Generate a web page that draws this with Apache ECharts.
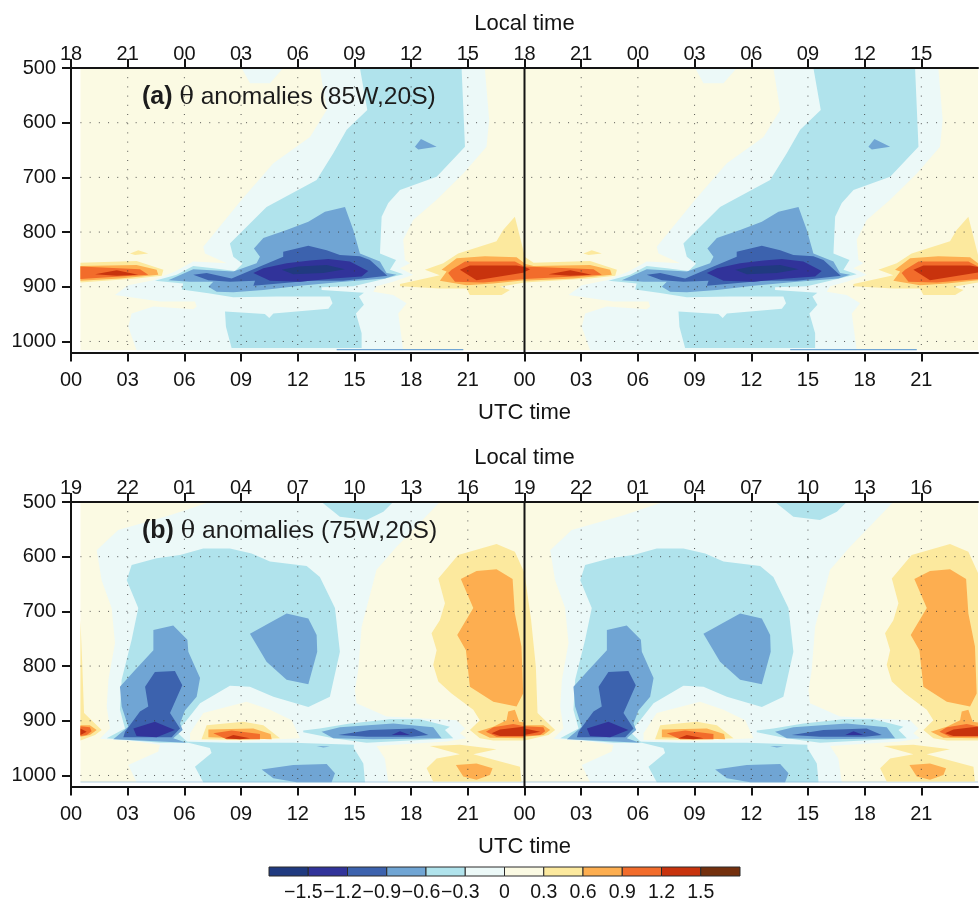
<!DOCTYPE html>
<html>
<head>
<meta charset="utf-8">
<style>html,body{margin:0;padding:0;background:#fff}#c{width:979px;height:902px}</style>
<script src="https://cdn.jsdelivr.net/npm/echarts@6/dist/echarts.min.js"></script>
</head>
<body>
<div id="c"></div>
<script>
// Axis content
const pressureTicks = [500,600,700,800,900,1000];
const utcTicks = [0,3,6,9,12,15,18,21,24,27,30,33,36,39,42,45];
const utcLabels = ['00','03','06','09','12','15','18','21','00','03','06','09','12','15','18','21'];
const localLabelsA = ['18','21','00','03','06','09','12','15','18','21','00','03','06','09','12','15'];
const localLabelsB = ['19','22','01','04','07','10','13','16','19','22','01','04','07','10','13','16'];
const gridHours = [3,6,9,12,15,18,21,27,30,33,36,39,42,45];
const gridPressures = [600,700,800,900,1000];
const cbEdges = [-1.8,-1.5,-1.2,-0.9,-0.6,-0.3,0,0.3,0.6,0.9,1.2,1.5,1.8];
const cbTicks = [-1.5,-1.2,-0.9,-0.6,-0.3,0,0.3,0.6,0.9,1.2,1.5];

// Contour regions of panel (a): [UTC hour, hPa] vertices, one 24 h cycle
const a_base = [[0,500],[24,500],[24,1016],[0,1016]];
const a_n0_main = [[13.17,500],[13.53,577],[12.65,626],[10.71,674],[9.03,741],[7,827],[7.09,839],[8.24,857],[6.47,854],[5.5,872],[4.36,888],[3.03,897],[2.33,915],[4.71,927],[6.56,927],[6.65,936],[6.47,941],[4.36,936],[3.21,949],[3.03,973],[3.47,1016],[17.58,1016],[17.32,949],[17.76,930],[17.05,915],[16,909],[16.17,899],[17.05,891],[18.11,878],[17.41,866],[17.94,857],[17.67,851],[17.58,814],[18.11,778],[19.35,741],[20.76,693],[21.99,644],[22.13,595],[21.9,500]];
const a_n0_top = [[9.03,500],[9.47,528],[10.53,528],[11.23,500]];
const a_n3_main = [[15.29,500],[15.68,577],[14.59,613],[13.88,656],[13,705],[10.35,754],[8.41,821],[8.59,845],[9.08,858],[8.68,871],[7.53,866],[6.47,862],[5.59,878],[4.44,889],[5.94,894],[5.86,905],[7.27,912],[8.59,919],[10.88,918],[13.7,918],[13.84,930],[13.62,940],[10.71,949],[10.49,957],[10.26,950],[8.15,945],[8.2,973],[8.5,1012],[15.38,1012],[15.38,985],[15.08,949],[15.5,933],[15.24,918],[15.5,911],[13.26,906],[13.26,901],[14.94,899],[16.17,889],[17.58,877],[16.88,869],[17.2,851],[16.35,839],[16.44,772],[16.79,747],[17.41,723],[19.35,699],[20.85,644],[20.67,500]];
const a_n3_edge = [[14.06,1014],[20.76,1014],[20.76,1016],[14.06,1016]];
const a_n6_main = [[5.15,888],[6.47,868],[8.59,872],[9.82,857],[10,845],[9.68,830],[10.18,811],[11.41,796],[12.56,781],[13.44,763],[14.5,754],[14.94,796],[15.29,839],[16.35,854],[16.7,875],[17.23,878],[16.61,885],[14.41,891],[12.12,898],[10.18,906],[8.59,910],[7.71,909],[7.27,900],[7.53,891],[6.3,891]];
const a_n6_dot = [[18.2,644],[18.52,630],[19.35,644],[18.38,649]];
const a_n9_main = [[6.47,878],[7.18,875],[8.5,885],[10,863],[11.23,845],[11.23,836],[12.56,825],[13.53,833],[14.23,842],[15.29,844],[15.82,851],[16.74,880],[14.41,889],[12.65,889],[9.65,898],[9.74,889],[8.41,891],[7.27,888]];
const a_n12_main = [[9.65,875],[10.18,866],[11.41,857],[12.65,852],[13.62,849],[14.76,854],[15.73,871],[15.38,881],[13.88,885],[12.12,891],[10.53,889]];
const a_n15_main = [[11.15,869],[12.03,863],[13.53,860],[14.5,868],[13.35,875],[11.76,877]];
const a_p3_right = [[17.41,895],[19.52,879],[18.73,869],[19.7,857],[20.49,839],[22.52,817],[22.87,796],[23.49,772],[24,842],[24,892],[22.7,900],[23.23,906],[22.79,915],[21.11,915],[20.93,903],[19.52,903],[17.41,899]];
const a_p3_left = [[0,845],[0.48,856],[3.47,853],[4.89,869],[4.8,880],[3.47,885],[0,892]];
const a_p3_spot = [[3.12,839],[3.56,833],[4.09,839],[3.39,842]];
const a_p6_right = [[19.61,869],[20.41,848],[21.9,844],[23.58,846],[24,857],[24,888],[22.35,894],[20.93,897],[19.52,889],[19.88,872]];
const a_p6_left = [[0,858],[0.48,862],[3.47,860],[4.53,869],[4.62,878],[2.59,885],[0,889]];
const a_p9_right = [[20.14,869],[20.85,854],[23.49,854],[24,863],[24,886],[21.82,892],[20.32,891],[19.96,875]];
const a_p9_left = [[0,863],[3.65,868],[4.09,878],[2.59,881],[0,886]];
const a_p12_right = [[20.58,869],[21.11,861],[23.58,861],[24,864],[24,874],[21.46,888]];
const a_p12_left = [[0,864],[0.3,868],[0,873]];
const a_p12_tongue = [[1.27,877],[2.42,870],[3.56,878],[2.42,880]];

// Contour regions of panel (b)
const b_base = [[0,500],[24,500],[24,1012.5],[0,1012.5]];
const b_n0_main = [[7.35,500],[5.24,524],[2.5,551],[1.36,588],[1.62,643],[2.15,694],[2.33,758],[1.98,825],[1.89,874],[2.06,914],[1.53,933],[3.47,938],[4.71,944],[4.62,956],[3.03,981],[3.47,1012.5],[16.79,1012.5],[16.61,969],[16.17,946],[19.88,938],[20.93,932],[20.58,923],[20.85,914],[20.41,899],[16.7,892],[15.11,868],[15.03,844],[15.2,807],[15.38,728],[16.17,624],[17.23,582],[19.52,500]];
const b_p0_island = [[6.3,923],[7,886],[9.29,865],[10.53,880],[11.68,899],[12.12,932],[9.12,937],[6.3,935]];
const b_n3_main = [[7,585],[5.77,597],[4.53,603],[3.21,615],[2.95,643],[3.56,694],[3.21,752],[2.68,825],[2.59,880],[2.86,914],[1.89,932],[4.71,940],[6.21,940],[5.86,929],[5.59,920],[6.12,899],[6.83,868],[8.41,836],[9.47,838],[10.71,856],[12.56,875],[13.7,856],[14.23,774],[13.97,694],[13.17,637],[12.47,617],[10.53,609],[9.56,594],[8.41,585]];
const b_n3_top = [[13.26,500],[14.23,527],[15.64,533],[16.53,518],[17.05,500]];
const b_n3_low = [[5.94,938],[7.35,950],[7.44,959],[6.56,984],[7,1012.5],[15.56,1012.5],[15.47,978],[14.97,950],[14.97,944],[11.76,940],[8.24,940]];
const b_n3_band = [[12.29,918],[13.17,914],[14.76,905],[16.88,897],[18.47,897],[20.05,911],[19.79,917],[20.23,932],[15.64,940],[13.88,932],[12.29,921]];
const b_n6_tower = [[4.36,734],[5.41,726],[6.16,752],[6.21,774],[6.83,822],[6.65,856],[6.03,881],[5.77,905],[5.91,917],[5.41,932],[6.12,940],[2.24,934],[3.03,911],[2.68,874],[2.59,838],[3.39,807],[4.36,771]];
const b_n6_mid = [[9.47,741],[11.41,704],[12.56,713],[13,743],[13.03,774],[12.56,833],[11.41,825],[10.35,792]];
const b_n6_band = [[13.26,920],[14.23,912],[17.05,905],[19.17,912],[19.61,932],[16,934],[13.88,932]];
const b_n6_low = [[10.09,989],[11.76,981],[13.53,979],[13.97,996],[13.79,1012.5],[11.94,1012.5],[10.71,1005]];
const b_n6_spot = [[13,946],[13.7,947],[13.35,949]];
const b_n6_edge = [[0,1011.5],[24,1011.5],[24,1012.5],[0,1012.5]];
const b_n9_tower = [[4.44,811],[5.5,809],[5.89,835],[5.24,886],[5.77,914],[5.33,930],[2.77,930],[2.86,920],[3.65,883],[4.09,874],[3.92,838]];
const b_n9_band = [[14.14,926],[15.82,917],[18.11,914],[18.91,926],[18.02,929],[15.64,929]];
const b_n12_tower = [[3.3,914],[4.44,902],[5.5,917],[4.53,930],[3.47,928]];
const b_n12_band = [[16.97,926],[17.41,919],[17.94,926]];
const b_p3_right = [[19.44,640],[20.49,597],[22.52,577],[23.49,591],[24,630],[24,936],[22.35,936],[21.64,932],[21.11,917],[21.64,899],[21.29,880],[20.14,850],[19.44,828],[19.17,798],[19.35,771],[19.08,740],[19.52,716],[19.79,685]];
const b_p3_left = [[0,630],[0.35,716],[0.6,801],[0.69,886],[1.62,917],[1.27,926],[0,936]];
const b_p3_island = [[6.91,934],[7.18,908],[9.12,902],[10.18,908],[11.06,932],[9.12,935]];
const b_p3_low = [[18.99,946],[20.58,944],[22.52,952],[21.29,961],[23.76,984],[23.84,1011],[19.17,1011],[18.82,987],[19.35,969],[20.58,961]];
const b_p6_big = [[20.63,641],[21.46,626],[22.52,623],[23.37,641],[23.49,704],[23.84,764],[23.93,850],[23.58,874],[22.35,865],[21.11,838],[20.9,771],[20.44,743],[21.29,694]];
const b_p6_band = [[21.5,920],[22.35,911],[23.05,899],[23.14,883],[23.49,880],[23.72,902],[24,903],[24,932],[22.17,931]];
const b_p6_left = [[0,908],[1,908],[1.36,917],[1,926],[0,929]];
const b_p6_island = [[7.27,916],[9.65,914],[10.56,924],[10.62,934],[7.27,930]];
const b_p6_low = [[20.37,981],[21.46,978],[22.31,987],[22.17,999],[21.46,1008],[20.76,1002]];
const b_p9_band = [[21.96,920],[22.35,912],[23.4,906],[24,910],[24,929],[22.52,929]];
const b_p9_left = [[0,910],[1,912],[1.09,919],[0.83,926],[0,928]];
const b_p9_island = [[7.53,923],[8.5,918],[10,924],[10,934],[8.24,934]];
const b_p12_band = [[22.26,923],[22.7,916],[23.93,911],[24,911],[24,928],[22.7,928]];
const b_p12_left = [[0,914],[0.83,920],[0,926]];
const b_p12_island = [[8.15,932],[8.59,926],[9.47,932],[8.94,934]];

// Colours of the twelve contour classes, coolest to warmest
const levelColors = ['#203a80','#31339a','#3c62ae','#70a5d4','#b0e3ec','#ecf9f8','#fbfae3','#fce99e','#fdae50','#f26c2b','#c8330d','#74300e'];
const N15=0,N12=1,N9=2,N6=3,N3=4,N0=5,P0=6,P3=7,P6=8,P9=9,P12=10;

const bandsA = [
 [P0,a_base],[N0,a_n0_main],[N0,a_n0_top],
 [P3,a_p3_right],[P3,a_p3_left],[P3,a_p3_spot],
 [P6,a_p6_right],[P6,a_p6_left],
 [P9,a_p9_right],[P9,a_p9_left],
 [P12,a_p12_right],[P12,a_p12_left],[P12,a_p12_tongue],
 [N3,a_n3_main],[N6,a_n3_edge],[N6,a_n6_main],[N6,a_n6_dot],
 [N9,a_n9_main],[N12,a_n12_main],[N15,a_n15_main]
];
const bandsB = [
 [P0,b_base],[N0,b_n0_main],[P0,b_p0_island],
 [N3,b_n3_main],[N3,b_n3_top],[N3,b_n3_low],[N3,b_n3_band],
 [N6,b_n6_tower],[N6,b_n6_mid],[N6,b_n6_band],[N6,b_n6_low],[N6,b_n6_spot],[N6,b_n6_edge],
 [N9,b_n9_tower],[N9,b_n9_band],[N12,b_n12_tower],[N12,b_n12_band],
 [P3,b_p3_right],[P3,b_p3_left],[P3,b_p3_island],[P3,b_p3_low],
 [P6,b_p6_big],[P6,b_p6_band],[P6,b_p6_left],[P6,b_p6_island],[P6,b_p6_low],
 [P9,b_p9_band],[P9,b_p9_left],[P9,b_p9_island],
 [P12,b_p12_band],[P12,b_p12_left],[P12,b_p12_island]
];

const ink = '#141414';
const fontFamily = '"Liberation Sans", Arial, sans-serif';
const TICK = 20, NAME = 22;

function bandSeries(bands, axisIdx, offset){
  const minHour = offset === 0 ? 0.5 : offset;
  return {
    type:'custom', xAxisIndex:axisIdx.x, yAxisIndex:axisIdx.y, silent:true, animation:false, clip:false, z:2,
    data:bands.map((b,i)=>[i]),
    renderItem(params, api){
      const b = bands[params.dataIndex];
      const points = b[1].map(v=>api.coord([Math.max(v[0]+offset,minHour), v[1]]));
      return {type:'polygon', shape:{points}, style:{fill:levelColors[b[0]]}};
    }
  };
}
function frameSeries(axisIdx){
  const items = [];
  gridPressures.forEach(p=>items.push({a:[0.5,p],b:[48,p],dash:true}));
  gridHours.forEach(h=>items.push({a:[h,500],b:[h,1020],dash:true}));
  items.push({a:[24,500],b:[24,1020],dash:false});
  return {
    type:'custom', xAxisIndex:axisIdx.x, yAxisIndex:axisIdx.y, silent:true, animation:false, clip:false, z:3,
    data:items.map((d,i)=>[i]),
    renderItem(params, api){
      const d = items[params.dataIndex];
      const p1 = api.coord(d.a), p2 = api.coord(d.b);
      return {type:'line', shape:{x1:p1[0],y1:p1[1],x2:p2[0],y2:p2[1]},
        style: d.dash ? {stroke:'#3a3a3a',lineWidth:1,lineDash:[1,8.2],opacity:0.85} : {stroke:ink,lineWidth:2}};
    }
  };
}
function xBottom(gridIndex){
  return {type:'value',gridIndex,position:'bottom',z:5,min:0,max:48,interval:3,splitLine:{show:false},
    name:'UTC time',nameLocation:'middle',nameGap:50,nameTextStyle:{fontSize:NAME,color:ink,fontFamily},
    axisLine:{lineStyle:{color:ink,width:2}},
    axisTick:{length:9,inside:false,lineStyle:{color:ink,width:2},customValues:utcTicks},
    axisLabel:{customValues:utcTicks,margin:18,fontSize:TICK,color:ink,fontFamily,formatter:v=>utcLabels[utcTicks.indexOf(v)]}};
}
function xTop(gridIndex,labels){
  return {type:'value',gridIndex,position:'top',z:5,min:0,max:48,interval:3,splitLine:{show:false},
    name:'Local time',nameLocation:'middle',nameGap:33,nameTextStyle:{fontSize:NAME,color:ink,fontFamily},
    axisLine:{lineStyle:{color:ink,width:2}},
    axisTick:{length:9,lineStyle:{color:ink,width:2},customValues:utcTicks},
    axisLabel:{customValues:utcTicks,margin:4,fontSize:TICK,color:ink,fontFamily,formatter:v=>labels[utcTicks.indexOf(v)]}};
}
function yLeft(gridIndex){
  return {type:'value',gridIndex,z:5,inverse:true,min:500,max:1020,interval:100,splitLine:{show:false},
    axisLine:{lineStyle:{color:ink,width:2}},
    axisTick:{length:9,lineStyle:{color:ink,width:2},customValues:pressureTicks},
    axisLabel:{customValues:pressureTicks,margin:15,fontSize:TICK,color:ink,fontFamily,formatter:v=>String(v)}};
}
function panelTitle(letter,rest,top){
  return {left:142,top,padding:0,text:'{b|('+letter+')} {t|θ} '+rest,
    textStyle:{fontSize:24.6,fontWeight:'normal',color:'#1c1c1c',fontFamily,
      rich:{b:{fontSize:25,fontWeight:'bold',color:'#1c1c1c',fontFamily},t:{fontSize:24,color:'#1c1c1c',fontFamily:'"DejaVu Serif", serif'}}}};
}

const option = {
  animation:false,
  backgroundColor:'#fff',
  title:[panelTitle('a','anomalies (85W,20S)',85),panelTitle('b','anomalies (75W,20S)',519)],
  grid:[
    {left:71,top:68,width:907,height:284.4,containLabel:false},
    {left:71,top:502,width:907,height:284.4,containLabel:false},
    {left:269,top:867,width:471,height:9,containLabel:false}
  ],
  xAxis:[
    xBottom(0),xTop(0,localLabelsA),xBottom(1),xTop(1,localLabelsB),
    {type:'value',gridIndex:2,min:-1.8,max:1.8,interval:0.3,splitLine:{show:false},axisLine:{show:false},axisTick:{show:false},axisLabel:{show:false}}
  ],
  yAxis:[yLeft(0),yLeft(1),{type:'value',gridIndex:2,min:0,max:1,show:false}],
  series:[
    bandSeries(bandsA,{x:0,y:0},0),bandSeries(bandsA,{x:0,y:0},24),frameSeries({x:0,y:0}),
    bandSeries(bandsB,{x:2,y:1},0),bandSeries(bandsB,{x:2,y:1},24),frameSeries({x:2,y:1}),
    {type:'custom',xAxisIndex:4,yAxisIndex:2,silent:true,animation:false,clip:false,
     data:levelColors.map((c,i)=>[i]),
     renderItem(params,api){
       const i=params.dataIndex;
       const p0=api.coord([cbEdges[i],1]),p1=api.coord([cbEdges[i+1],0]);
       return {type:'rect',shape:{x:p0[0],y:p0[1],width:p1[0]-p0[0],height:p1[1]-p0[1]},
         style:{fill:levelColors[i],stroke:'#2b2b2b',lineWidth:1}};
     }},
    {type:'custom',xAxisIndex:4,yAxisIndex:2,silent:true,animation:false,clip:false,
     data:cbTicks.map((c,i)=>[i]),
     renderItem(params,api){
       const v=cbTicks[params.dataIndex];
       const p=api.coord([v,0]);
       const label=v===0?'0':(v<0?'\u2212'+Math.abs(v).toFixed(1):v.toFixed(1));
       return {type:'text',x:p[0]+(v<0?-5:0),y:p[1]+17,
         style:{text:label,align:'center',verticalAlign:'middle',fill:ink,fontSize:19.5,fontFamily}};
     }}
  ]
};
echarts.init(document.getElementById('c'),null,{renderer:'canvas'}).setOption(option);
</script>
</body>
</html>
